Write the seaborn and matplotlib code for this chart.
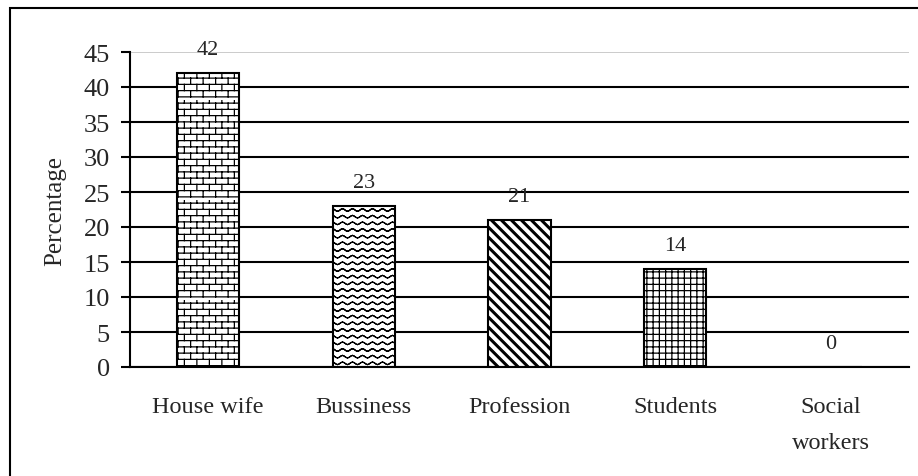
import warnings

import numpy as np
import pandas as pd
import matplotlib
matplotlib.use("Agg")
import matplotlib.pyplot as plt
import matplotlib.hatch as mhatch
from matplotlib.path import Path
from matplotlib.patches import Rectangle
import seaborn as sns

# ---- data -------------------------------------------------------------
categories = ["House wife", "Bussiness", "Profession", "Students", "Social\nworkers"]
percentages = [42, 23, 21, 14, 0]
y_ticks = [0, 5, 10, 15, 20, 25, 30, 35, 40, 45]
# fill texture per bar: b = brick, w = wave, d = thick diagonal, g = fine grid
textures = ["b", "w", "d", "g", ""]


# ---- custom fill textures ---------------------------------------------
def _brick(rows=16, cols=8):
    segs = []
    for k in range(rows):
        y0 = (k + 0.5) / rows
        y1 = (k + 1.5) / rows
        segs.append((-0.01, y0, 1.01, y0))
        shift = 0.25 if k % 2 == 0 else 0.75
        for j in range(cols):
            x = (j + shift) / cols
            segs.append((x, y0, x, y1))
    return segs


def _wave(rows=15, periods=10, amp=0.012, steps=8):
    segs = []
    xs = np.linspace(0, 1, periods * steps + 1)
    for k in range(rows):
        yc = (k + 0.5) / rows
        ys = yc + amp * np.sin(2 * np.pi * periods * xs)
        for i in range(len(xs) - 1):
            segs.append((xs[i], ys[i], xs[i + 1], ys[i + 1]))
    return segs


def _grid(n=16):
    segs = []
    for k in range(n):
        p = (k + 0.5) / n
        segs.append((-0.01, p, 1.01, p))
        segs.append((p, -0.01, p, 1.01))
    return segs


def _diagonal(n=10, w=0.025):
    polys = []
    for k in range(-2, 2 * n + 2):
        c = k / n
        polys.append([(-1.0, c + 1.0), (2.0, c - 2.0),
                      (2.0, c - 2.0 + w), (-1.0, c + 1.0 + w)])
    return polys


class TextureHatch(mhatch.HatchPatternBase):
    def __init__(self, hatch, density):
        segs, polys = [], []
        if "b" in hatch:
            segs += _brick()
        if "w" in hatch:
            segs += _wave()
        if "g" in hatch:
            segs += _grid()
        if "d" in hatch:
            polys += _diagonal()
        self.segs = segs
        self.polys = polys
        self.num_vertices = 2 * len(segs) + 5 * len(polys)

    def set_vertices_and_codes(self, vertices, codes):
        i = 0
        for x0, y0, x1, y1 in self.segs:
            vertices[i] = (x0, y0)
            vertices[i + 1] = (x1, y1)
            codes[i] = Path.MOVETO
            codes[i + 1] = Path.LINETO
            i += 2
        for poly in self.polys:
            vertices[i:i + 4] = poly
            vertices[i + 4] = poly[0]
            codes[i] = Path.MOVETO
            codes[i + 1:i + 4] = Path.LINETO
            codes[i + 4] = Path.CLOSEPOLY
            i += 5


mhatch._hatch_types.append(TextureHatch)
warnings.filterwarnings("ignore")

# ---- style ------------------------------------------------------------
sns.set_style("white")
plt.rcParams["font.family"] = ["Liberation Serif", "DejaVu Serif"]
plt.rcParams["hatch.linewidth"] = 0.9
plt.rcParams["hatch.color"] = "black"

fig = plt.figure(figsize=(9.18, 4.77), dpi=100)
ax = fig.add_axes([130 / 918, 1 - 368 / 477, 779 / 918, 315 / 477])

df = pd.DataFrame({"category": categories, "percentage": percentages})
sns.barplot(data=df, x="category", y="percentage", color="white",
            edgecolor="black", linewidth=1.5, width=0.4, saturation=1,
            ax=ax)

for patch, tex in zip(ax.patches, textures):
    patch.set_facecolor("white")
    patch.set_edgecolor("black")
    if tex:
        patch.set_hatch(tex)

ax.bar_label(ax.containers[0], labels=[str(v) for v in percentages],
             padding=10, fontsize=16)

# axes limits, ticks and grid
ax.set_xlim(-0.5, len(categories) - 0.5)
ax.set_ylim(0, 45)
ax.set_yticks(y_ticks)
ax.set_axisbelow(True)
ax.yaxis.grid(True, color="black", linewidth=1.5)
ax.xaxis.grid(False)
ax.get_ygridlines()[-1].set_color("#bdbdbd")
ax.get_ygridlines()[-1].set_linewidth(1.1)

ax.set_xticks(range(len(categories)))
ax.set_xticklabels(categories, fontsize=17.5, linespacing=1.9)
ax.set_xticks(np.arange(-0.5, len(categories)), minor=True)
ax.tick_params(axis="x", which="major", length=0, pad=21)
ax.tick_params(axis="x", which="minor", length=6, width=1.5,
               direction="out", color="black")
ax.tick_params(axis="y", which="major", length=6.5, width=1.5,
               direction="out", color="black", pad=8, labelsize=19)
ax.tick_params(left=True, bottom=True)

for side in ("top", "right"):
    ax.spines[side].set_visible(False)
for side in ("left", "bottom"):
    ax.spines[side].set_color("black")
    ax.spines[side].set_linewidth(1.5)

ax.set_xlabel("")
ax.set_ylabel("Percentage", fontsize=18)
ax.yaxis.label.set_va("center")
ax.yaxis.set_label_coords((55 - 130) / 779, 0.5)

# frame around the whole chart area
fig.add_artist(Rectangle((10 / 918, -0.1), 1.2, 1 - 8.5 / 477 + 0.1,
                         transform=fig.transFigure, fill=False,
                         edgecolor="black", linewidth=1.5, clip_on=False))

fig.savefig("out.png", dpi=100)
